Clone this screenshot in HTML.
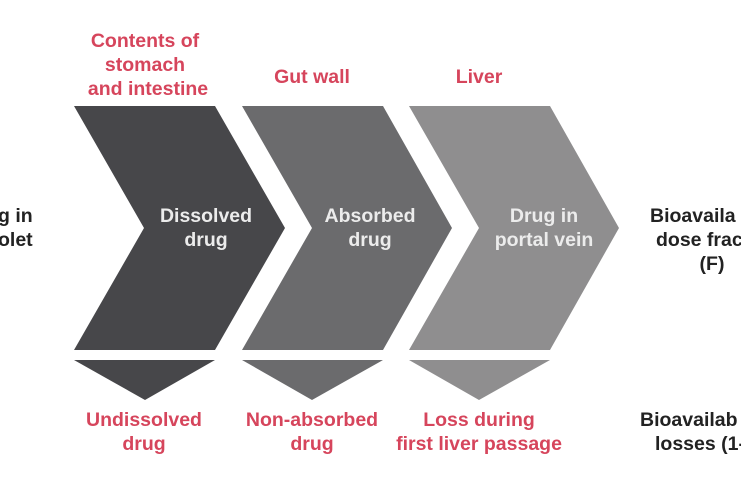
<!DOCTYPE html>
<html><head><meta charset="utf-8"><style>
body{margin:0;background:#fff;}
svg{display:block}
text{font-family:"Liberation Sans",sans-serif;font-weight:bold;font-size:19.5px;text-anchor:middle}
.r{fill:#d6455c}.w{fill:#ececec}.k{fill:#222}
</style></head><body>
<svg width="741" height="486" viewBox="0 0 741 486">
<polygon points="74,106 215,106 285,228 215,350 74,350 144,228" fill="#47474a"/>
<polygon points="242,106 383,106 452,228 383,350 242,350 312,228" fill="#6b6b6d"/>
<polygon points="409,106 550,106 619,228 550,350 409,350 479,228" fill="#8f8e8f"/>
<polygon points="74,360 215,360 145,400" fill="#47474a"/>
<polygon points="242,360 383,360 312,400" fill="#6b6b6d"/>
<polygon points="409,360 550,360 479,400" fill="#8f8e8f"/>
<text class="r" x="145" y="47">Contents of</text>
<text class="r" x="145" y="71">stomach</text>
<text class="r" x="148" y="95">and intestine</text>
<text class="r" x="312" y="83">Gut wall</text>
<text class="r" x="479" y="83">Liver</text>
<text class="w" x="206" y="222">Dissolved</text>
<text class="w" x="206" y="246">drug</text>
<text class="w" x="370" y="222">Absorbed</text>
<text class="w" x="370" y="246">drug</text>
<text class="w" x="544" y="222">Drug in</text>
<text class="w" x="544" y="246">portal vein</text>
<text class="k" x="-2" y="222" style="text-anchor:start">g in</text>
<text class="k" x="-2" y="246" style="text-anchor:start">olet</text>
<text class="k" x="650" y="222" style="text-anchor:start">Bioavaila</text>
<text class="k" x="656" y="246" style="text-anchor:start">dose fract</text>
<text class="k" x="712" y="270">(F)</text>
<text class="r" x="144" y="426">Undissolved</text>
<text class="r" x="144" y="450">drug</text>
<text class="r" x="312" y="426">Non-absorbed</text>
<text class="r" x="312" y="450">drug</text>
<text class="r" x="479" y="426">Loss during</text>
<text class="r" x="479" y="450">first liver passage</text>
<text class="k" x="640" y="426" style="text-anchor:start">Bioavailab</text>
<text class="k" x="655" y="450" style="text-anchor:start">losses (1-</text>
</svg>
</body></html>
